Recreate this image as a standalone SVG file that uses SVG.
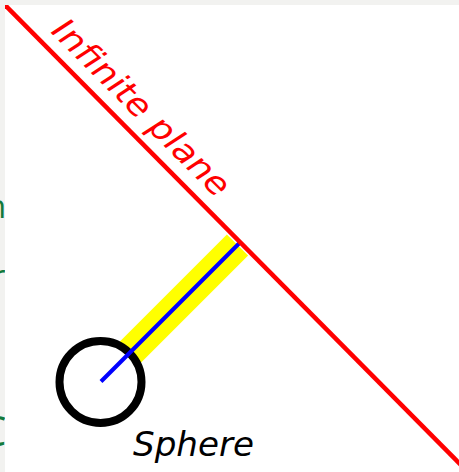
<svg xmlns="http://www.w3.org/2000/svg" width="459" height="472" viewBox="0 0 459 472">
  <style>
    .frag { fill: #137a3c; font-family: "Open Sans", "Liberation Sans", sans-serif; }
    .lbl { font-family: "DejaVu Sans", "Liberation Sans", sans-serif; font-style: italic; }
  </style>
  <defs>
    <clipPath id="edge"><rect x="0" y="0" width="5" height="472"/></clipPath>
    <clipPath id="inner"><rect x="5" y="5" width="454" height="467"/></clipPath>
  </defs>
  <rect x="0" y="0" width="459" height="472" fill="#f2f2f0"/>
  <rect x="5" y="5" width="454" height="467" fill="#ffffff"/>
  <g id="edge-fragments" clip-path="url(#edge)">
    <text class="frag" x="-14" y="218" font-size="33">n</text>
    <text class="frag" x="-8" y="288" font-size="33">r</text>
    <text class="frag" x="-20" y="446" font-size="42">C</text>
  </g>
  <g clip-path="url(#inner)">
    <g id="connectors">
      <line id="gap-band" x1="129.5" y1="353" x2="237.5" y2="245" stroke="#ffff00" stroke-width="30"/>
    </g>
    <g id="sphere">
      <circle cx="100.5" cy="382" r="41" fill="none" stroke="#000000" stroke-width="8"/>
      <text class="lbl" x="133" y="456" font-size="34" fill="#000000" textLength="121" lengthAdjust="spacingAndGlyphs">Sphere</text>
    </g>
    <g id="distance">
      <line x1="101" y1="381.5" x2="239.5" y2="243" stroke="#0000ff" stroke-width="4"/>
    </g>
    <g id="plane">
      <line x1="4" y1="4" x2="462" y2="466" stroke="#ff0000" stroke-width="4.5"/>
      <text class="lbl" transform="translate(50,32) rotate(45)" x="0" y="0" font-size="33" fill="#ff0000" textLength="236" lengthAdjust="spacingAndGlyphs">Infinite plane</text>
    </g>
  </g>
</svg>
